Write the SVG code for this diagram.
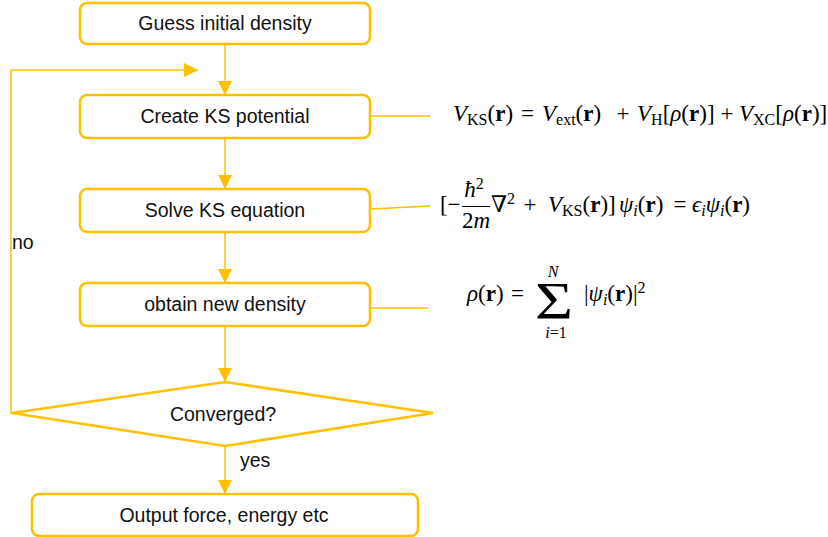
<svg xmlns="http://www.w3.org/2000/svg" width="828" height="537" viewBox="0 0 828 537">
<style>
.box{fill:#fff;stroke:#FFC000;stroke-width:2.6}
.lbl{font-family:"Liberation Sans",Arial,sans-serif;font-size:19.5px;fill:#111;text-anchor:middle}
.side{font-family:"Liberation Sans",Arial,sans-serif;font-size:19.5px;fill:#111}
.con{fill:none;stroke:#FFC000;stroke-width:1.5}
.m{font-family:"Liberation Serif","DejaVu Serif",serif;font-size:23px;fill:#000}
.it{font-style:italic}
.b{font-weight:bold}
.s{font-size:16px}
.c{text-anchor:middle}
.big{font-size:52px}
</style>
<defs>
<marker id="ah" markerUnits="userSpaceOnUse" markerWidth="15" markerHeight="14" refX="14" refY="7" orient="auto">
<path d="M0,0 L14,7 L0,14 z" fill="#FFC000"/>
</marker>
</defs>
<rect width="828" height="537" fill="#fff"/>
<g id="connectors">
<line class="con" x1="225" y1="44" x2="225" y2="95" marker-end="url(#ah)"/>
<polyline class="con" points="12,413 11,413 11,70 198,70" marker-end="url(#ah)"/>
<line class="con" x1="225" y1="138" x2="225" y2="189" marker-end="url(#ah)"/>
<line class="con" x1="225" y1="232" x2="225" y2="283" marker-end="url(#ah)"/>
<line class="con" x1="225" y1="326" x2="225" y2="382" marker-end="url(#ah)"/>
<line class="con" x1="225" y1="446" x2="225" y2="494" marker-end="url(#ah)"/>
<line class="con" x1="370" y1="116" x2="430" y2="116"/>
<line class="con" x1="370" y1="209" x2="430" y2="206"/>
<line class="con" x1="370" y1="308" x2="428" y2="308"/>
<text class="side" x="12" y="249">no</text>
<text class="side" x="240" y="467">yes</text>
</g>
<g id="guess">
<rect class="box" x="80" y="3" width="290" height="41" rx="7"/>
<text class="lbl" x="225" y="30">Guess initial density</text>
</g>
<g id="create">
<rect class="box" x="80" y="95" width="290" height="43" rx="7"/>
<text class="lbl" x="225" y="123">Create KS potential</text>
</g>
<g id="solve">
<rect class="box" x="80" y="189" width="290" height="43" rx="7"/>
<text class="lbl" x="225" y="217">Solve KS equation</text>
</g>
<g id="obtain">
<rect class="box" x="80" y="283" width="290" height="43" rx="7"/>
<text class="lbl" x="225" y="311">obtain new density</text>
</g>
<g id="converged">
<polygon class="box" points="225,382 433,413 225,446 12,413"/>
<text class="lbl" x="223" y="421">Converged?</text>
</g>
<g id="output">
<rect class="box" x="32" y="494" width="386" height="42" rx="7"/>
<text class="lbl" x="224" y="522">Output force, energy etc</text>
</g>
<g id="eq-vks">
<text class="m" y="121"><tspan x="453" class="it">V</tspan><tspan class="s" dy="4">KS</tspan><tspan dy="-4">(</tspan><tspan class="b">r</tspan>)</text>
<text class="m c" x="527.5" y="121">=</text>
<text class="m" y="121"><tspan x="542" class="it">V</tspan><tspan class="s" dy="4">ext</tspan><tspan dy="-4">(</tspan><tspan class="b">r</tspan>)</text>
<text class="m c" x="623" y="121">+</text>
<text class="m" y="121"><tspan x="637" class="it">V</tspan><tspan class="s" dy="4">H</tspan><tspan dy="-4">[</tspan><tspan class="it">ρ</tspan>(<tspan class="b">r</tspan>)]</text>
<text class="m c" x="727" y="121">+</text>
<text class="m" y="121"><tspan x="739" class="it">V</tspan><tspan class="s" dy="4">XC</tspan><tspan dy="-4">[</tspan><tspan class="it">ρ</tspan>(<tspan class="b">r</tspan>)]</text>
</g>
<g id="eq-ks">
<text class="m" x="440" y="212">[</text>
<text class="m c" x="454" y="212">−</text>
<text class="m c" x="474" y="197"><tspan class="it">ħ</tspan><tspan class="s" dy="-8">2</tspan></text>
<line x1="462" y1="206.5" x2="490" y2="206.5" stroke="#000" stroke-width="1"/>
<text class="m c" x="476" y="228">2<tspan class="it">m</tspan></text>
<text class="m" x="491" y="212">∇<tspan class="s" dy="-8">2</tspan></text>
<text class="m c" x="530" y="212">+</text>
<text class="m" y="212"><tspan x="548" class="it">V</tspan><tspan class="s" dy="4">KS</tspan><tspan dy="-4">(</tspan><tspan class="b">r</tspan>)]</text>
<text class="m" y="212"><tspan x="619" class="it">ψ</tspan><tspan class="s it" dy="4">i</tspan><tspan dy="-4">(</tspan><tspan class="b">r</tspan>)</text>
<text class="m c" x="680" y="212">=</text>
<text class="m" y="212"><tspan x="692" class="it">ϵ</tspan><tspan class="s it" dy="4">i</tspan><tspan class="it" dy="-4">ψ</tspan><tspan class="s it" dy="4">i</tspan><tspan dy="-4">(</tspan><tspan class="b">r</tspan>)</text>
</g>
<g id="eq-rho">
<text class="m" y="301"><tspan x="467" class="it">ρ</tspan>(<tspan class="b">r</tspan>)</text>
<text class="m c" x="517.5" y="301">=</text>
<text class="m c"><tspan class="big" x="554" y="319" textLength="38" lengthAdjust="spacingAndGlyphs">Σ</tspan><tspan class="s it" x="553" y="277">N</tspan><tspan class="s" x="556" y="338"><tspan class="it">i</tspan>=1</tspan></text>
<text class="m" y="301"><tspan x="584">|</tspan><tspan class="it">ψ</tspan><tspan class="s it" dy="4">i</tspan><tspan dy="-4">(</tspan><tspan class="b">r</tspan>)|<tspan class="s" dy="-8">2</tspan></text>
</g>
</svg>
